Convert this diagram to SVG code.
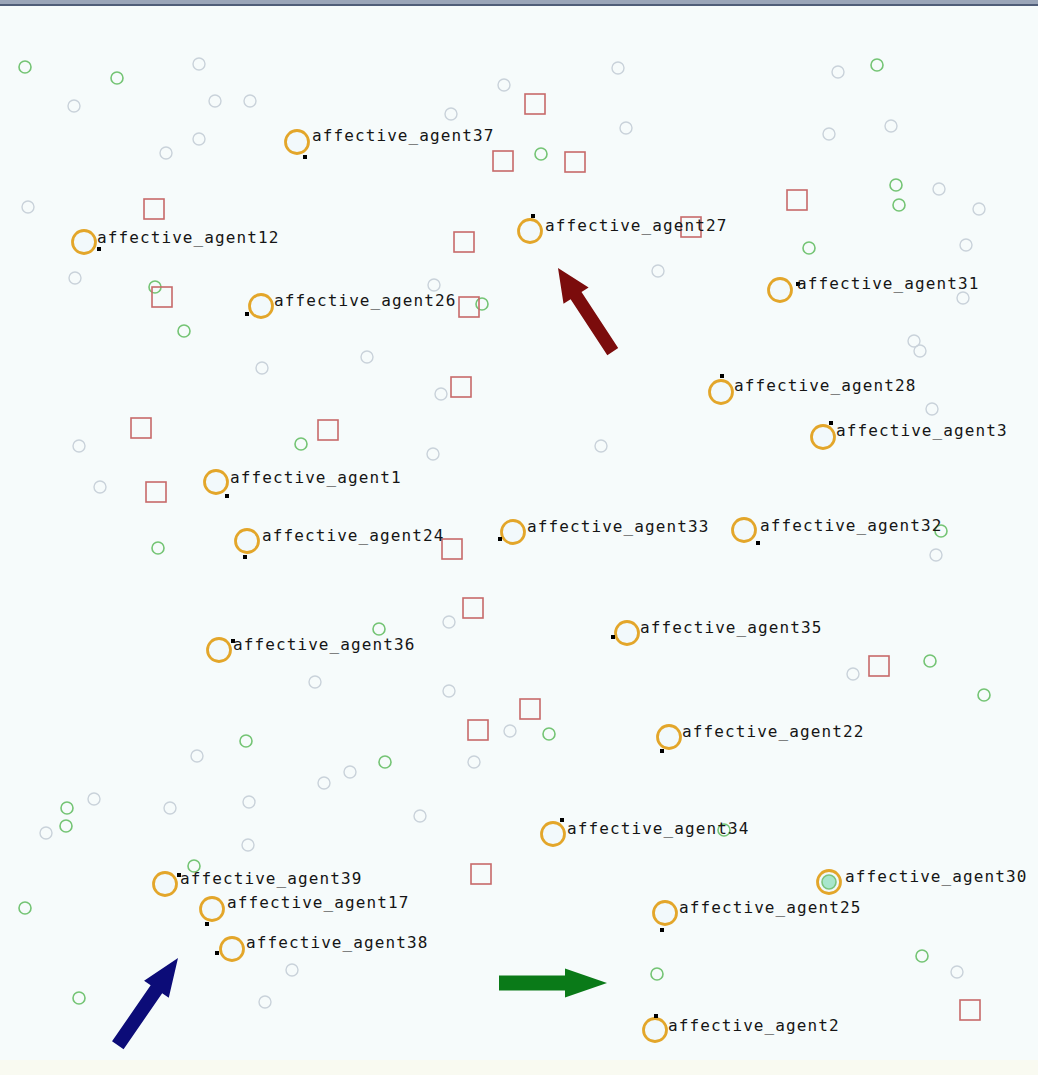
<svg xmlns="http://www.w3.org/2000/svg" width="1038" height="1075" viewBox="0 0 1038 1075">
<style>
.ag{fill:#f2f9fb;stroke:#e3a62a;stroke-width:2.8}
.dot{fill:#000}
.lbl{font-family:"DejaVu Sans Mono","Liberation Mono",monospace;font-size:16px;letter-spacing:1.1px;fill:#151515}
.sq{fill:none;stroke:#c76a6a;stroke-width:1.6}
.g{fill:none;stroke:#74c474;stroke-width:1.6}
.k{fill:none;stroke:#c9d2da;stroke-width:1.4}
</style>
<defs>
<rect id="s" x="-10" y="-10" width="20" height="20" class="sq"/>
<circle id="gc" r="6" class="g"/>
<circle id="kc" r="6" class="k"/>
</defs>
<rect x="0" y="0" width="1038" height="1075" fill="#f6fbfb"/>
<rect x="0" y="1060" width="1038" height="15" fill="#f9faf1"/>
<rect x="0" y="0" width="1038" height="4" fill="#9aa5b8"/>
<rect x="0" y="4" width="1038" height="2" fill="#4f5d78"/>

<g id="gray-resources">
<use href="#kc" x="199" y="64"/><use href="#kc" x="74" y="106"/><use href="#kc" x="215" y="101"/><use href="#kc" x="250" y="101"/>
<use href="#kc" x="199" y="139"/><use href="#kc" x="166" y="153"/><use href="#kc" x="28" y="207"/><use href="#kc" x="504" y="85"/>
<use href="#kc" x="451" y="114"/><use href="#kc" x="618" y="68"/><use href="#kc" x="626" y="128"/><use href="#kc" x="838" y="72"/>
<use href="#kc" x="891" y="126"/><use href="#kc" x="829" y="134"/><use href="#kc" x="939" y="189"/><use href="#kc" x="979" y="209"/>
<use href="#kc" x="966" y="245"/><use href="#kc" x="75" y="278"/><use href="#kc" x="434" y="285"/><use href="#kc" x="658" y="271"/>
<use href="#kc" x="963" y="298"/><use href="#kc" x="914" y="341"/><use href="#kc" x="920" y="351"/><use href="#kc" x="367" y="357"/>
<use href="#kc" x="262" y="368"/><use href="#kc" x="441" y="394"/><use href="#kc" x="932" y="409"/><use href="#kc" x="79" y="446"/>
<use href="#kc" x="433" y="454"/><use href="#kc" x="601" y="446"/><use href="#kc" x="100" y="487"/><use href="#kc" x="936" y="555"/>
<use href="#kc" x="449" y="622"/><use href="#kc" x="315" y="682"/><use href="#kc" x="449" y="691"/><use href="#kc" x="853" y="674"/>
<use href="#kc" x="510" y="731"/><use href="#kc" x="474" y="762"/><use href="#kc" x="197" y="756"/><use href="#kc" x="350" y="772"/>
<use href="#kc" x="324" y="783"/><use href="#kc" x="94" y="799"/><use href="#kc" x="170" y="808"/><use href="#kc" x="249" y="802"/>
<use href="#kc" x="46" y="833"/><use href="#kc" x="420" y="816"/><use href="#kc" x="248" y="845"/><use href="#kc" x="292" y="970"/>
<use href="#kc" x="265" y="1002"/><use href="#kc" x="957" y="972"/>
</g>

<g id="green-resources">
<use href="#gc" x="25" y="67"/><use href="#gc" x="117" y="78"/><use href="#gc" x="877" y="65"/><use href="#gc" x="541" y="154"/>
<use href="#gc" x="896" y="185"/><use href="#gc" x="899" y="205"/><use href="#gc" x="809" y="248"/><use href="#gc" x="155" y="287"/>
<use href="#gc" x="184" y="331"/><use href="#gc" x="482" y="304"/><use href="#gc" x="301" y="444"/><use href="#gc" x="158" y="548"/>
<use href="#gc" x="941" y="531"/><use href="#gc" x="379" y="629"/><use href="#gc" x="930" y="661"/><use href="#gc" x="984" y="695"/>
<use href="#gc" x="246" y="741"/><use href="#gc" x="549" y="734"/><use href="#gc" x="385" y="762"/><use href="#gc" x="67" y="808"/>
<use href="#gc" x="66" y="826"/><use href="#gc" x="194" y="866"/><use href="#gc" x="25" y="908"/><use href="#gc" x="79" y="998"/>
<use href="#gc" x="657" y="974"/><use href="#gc" x="922" y="956"/><use href="#gc" x="724" y="830"/>
</g>

<g id="red-resources">
<use href="#s" x="535" y="104"/><use href="#s" x="503" y="161"/><use href="#s" x="575" y="162"/><use href="#s" x="154" y="209"/>
<use href="#s" x="464" y="242"/><use href="#s" x="691" y="227"/><use href="#s" x="797" y="200"/><use href="#s" x="162" y="297"/>
<use href="#s" x="469" y="307"/><use href="#s" x="461" y="387"/><use href="#s" x="141" y="428"/><use href="#s" x="328" y="430"/>
<use href="#s" x="156" y="492"/><use href="#s" x="452" y="549"/><use href="#s" x="473" y="608"/><use href="#s" x="879" y="666"/>
<use href="#s" x="530" y="709"/><use href="#s" x="478" y="730"/><use href="#s" x="481" y="874"/><use href="#s" x="970" y="1010"/>
</g>

<g id="agent37"><circle class="ag" cx="297" cy="142" r="11.5"/><rect class="dot" x="303" y="155" width="4" height="4"/><text class="lbl" x="312" y="141">affective_agent37</text></g>
<g id="agent12"><circle class="ag" cx="84" cy="242" r="11.5"/><rect class="dot" x="97" y="247" width="4" height="4"/><text class="lbl" x="97" y="243">affective_agent12</text></g>
<g id="agent27"><circle class="ag" cx="530" cy="231" r="11.5"/><rect class="dot" x="531" y="214" width="4" height="4"/><text class="lbl" x="545" y="231">affective_agent27</text></g>
<g id="agent26"><circle class="ag" cx="261" cy="306" r="11.5"/><rect class="dot" x="245" y="312" width="4" height="4"/><text class="lbl" x="274" y="306">affective_agent26</text></g>
<g id="agent31"><circle class="ag" cx="780" cy="290" r="11.5"/><rect class="dot" x="796" y="282" width="4" height="4"/><text class="lbl" x="797" y="289">affective_agent31</text></g>
<g id="agent28"><circle class="ag" cx="721" cy="392" r="11.5"/><rect class="dot" x="720" y="374" width="4" height="4"/><text class="lbl" x="734" y="391">affective_agent28</text></g>
<g id="agent3"><circle class="ag" cx="823" cy="437" r="11.5"/><rect class="dot" x="829" y="421" width="4" height="4"/><text class="lbl" x="836" y="436">affective_agent3</text></g>
<g id="agent1"><circle class="ag" cx="216" cy="482" r="11.5"/><rect class="dot" x="225" y="494" width="4" height="4"/><text class="lbl" x="230" y="483">affective_agent1</text></g>
<g id="agent33"><circle class="ag" cx="513" cy="532" r="11.5"/><rect class="dot" x="498" y="537" width="4" height="4"/><text class="lbl" x="527" y="532">affective_agent33</text></g>
<g id="agent32"><circle class="ag" cx="744" cy="530" r="11.5"/><rect class="dot" x="756" y="541" width="4" height="4"/><text class="lbl" x="760" y="531">affective_agent32</text></g>
<g id="agent24"><circle class="ag" cx="247" cy="541" r="11.5"/><rect class="dot" x="243" y="555" width="4" height="4"/><text class="lbl" x="262" y="541">affective_agent24</text></g>
<g id="agent36"><circle class="ag" cx="219" cy="650" r="11.5"/><rect class="dot" x="231" y="639" width="4" height="4"/><text class="lbl" x="233" y="650">affective_agent36</text></g>
<g id="agent35"><circle class="ag" cx="627" cy="633" r="11.5"/><rect class="dot" x="611" y="635" width="4" height="4"/><text class="lbl" x="640" y="633">affective_agent35</text></g>
<g id="agent22"><circle class="ag" cx="669" cy="737" r="11.5"/><rect class="dot" x="660" y="749" width="4" height="4"/><text class="lbl" x="682" y="737">affective_agent22</text></g>
<g id="agent34"><circle class="ag" cx="553" cy="834" r="11.5"/><rect class="dot" x="560" y="818" width="4" height="4"/><text class="lbl" x="567" y="834">affective_agent34</text></g>
<g id="agent39"><circle class="ag" cx="165" cy="884" r="11.5"/><rect class="dot" x="177" y="873" width="4" height="4"/><text class="lbl" x="180" y="884">affective_agent39</text></g>
<g id="agent17"><circle class="ag" cx="212" cy="909" r="11.5"/><rect class="dot" x="205" y="922" width="4" height="4"/><text class="lbl" x="227" y="908">affective_agent17</text></g>
<g id="agent38"><circle class="ag" cx="232" cy="949" r="11.5"/><rect class="dot" x="215" y="951" width="4" height="4"/><text class="lbl" x="246" y="948">affective_agent38</text></g>
<g id="agent30"><circle class="ag" cx="829" cy="882" r="11.5"/><circle cx="829" cy="882" r="7" fill="#a8e6cc" stroke="#7cc47c" stroke-width="1.6"/><text class="lbl" x="845" y="882">affective_agent30</text></g>
<g id="agent25"><circle class="ag" cx="665" cy="913" r="11.5"/><rect class="dot" x="660" y="928" width="4" height="4"/><text class="lbl" x="679" y="913">affective_agent25</text></g>
<g id="agent2"><circle class="ag" cx="655" cy="1030" r="11.5"/><rect class="dot" x="654" y="1014" width="4" height="4"/><text class="lbl" x="668" y="1031">affective_agent2</text></g>

<g id="connectors">
<polygon fill="#7b0c0c" transform="translate(558,268) rotate(-123.2)" points="0,0 -33,-15 -33,-6.5 -100,-6.5 -100,6.5 -33,6.5 -33,15"/>
<polygon fill="#0c0c78" transform="translate(178,958) rotate(-55.4)" points="0,0 -38,-15 -38,-7 -106,-7 -106,7 -38,7 -38,15"/>
<polygon fill="#0a7a18" transform="translate(607,983) rotate(0)" points="0,0 -42,-14.5 -42,-7.5 -108,-7.5 -108,7.5 -42,7.5 -42,14.5"/>
</g>
</svg>
